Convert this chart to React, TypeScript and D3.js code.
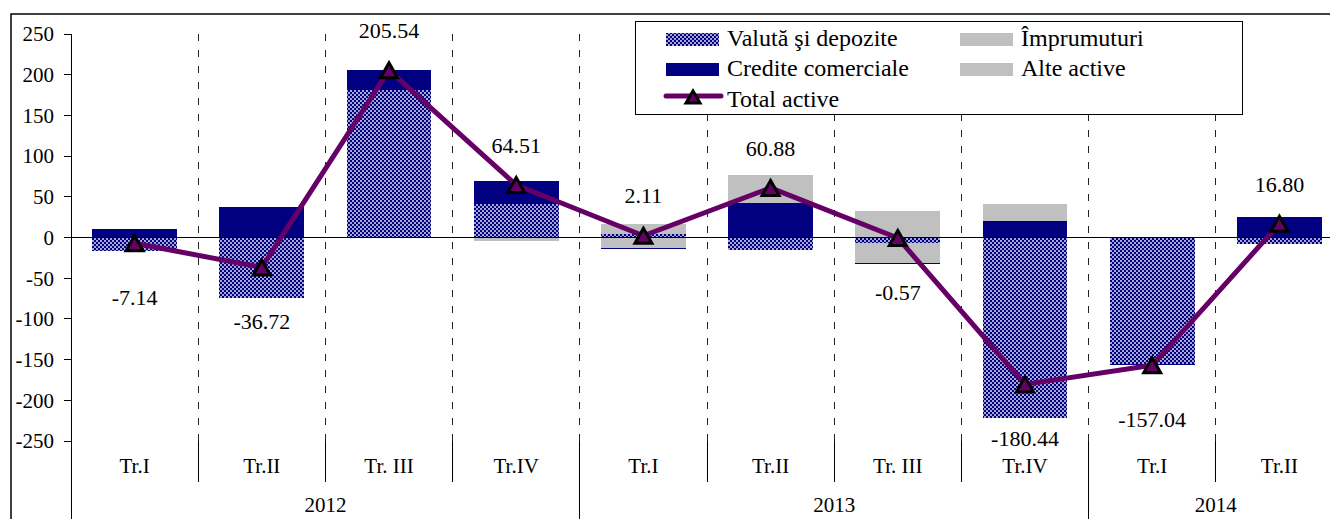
import React from "react";
import * as d3 from "d3";

// ---------- data ----------
const categories = ["Tr.I", "Tr.II", "Tr. III", "Tr.IV", "Tr.I", "Tr.II", "Tr. III", "Tr.IV", "Tr.I", "Tr.II"];
const years = ["2012", "2013", "2014"];
const yearSpans = [4, 4, 2];

const valuta = [-17.1, -74.2, 181, 41, 4, -15.5, -7, -221.5, -156, -8.3];
const imprumuturi = [0, 0, 0, -4.5, -12.7, 0, -24.4, 0, 0, 0];
const credite = [10, 37.5, 24.5, 28, -1.2, 42.8, -1.2, 20, -1, 25.1];
const alte = [0, 0, 0, 0, 12, 33.6, 32, 21, 0, 0];
const totalActive = [-7.14, -36.72, 205.54, 64.51, 2.11, 60.88, -0.57, -180.44, -157.04, 16.8];

const yTicks = [-250, -200, -150, -100, -50, 0, 50, 100, 150, 200, 250];

const seriesKeys = ["valuta", "imprumuturi", "credite", "alte"];
const seriesNames: Record<string, string> = {
  valuta: "Valută şi depozite",
  imprumuturi: "Împrumuturi",
  credite: "Credite comerciale",
  alte: "Alte active",
};

// ---------- styles ----------
const NAVY = "#000080";
const GRAY = "#C0C0C0";
const PURPLE = "#660066";
const FONT = "'Liberation Serif', 'Times New Roman', serif";
const fills: Record<string, string> = {
  valuta: "url(#checker)",
  imprumuturi: GRAY,
  credite: NAVY,
  alte: GRAY,
};

const W = 1330;
const H = 519;
const plotLeft = 71;
const plotTop = 34;
const plotBottom = 441;
const bandStep = 127.2;

function triPath(cx: number, cy: number, w: number, h: number) {
  return `M${cx},${cy - h / 2}L${cx + w / 2},${cy + h / 2}L${cx - w / 2},${cy + h / 2}Z`;
}

export default function App() {
  const idx = categories.map((_, i) => String(i));
  const x = d3
    .scaleBand<string>()
    .domain(idx)
    .range([plotLeft, plotLeft + bandStep * categories.length])
    .padding(0);
  const y = d3.scaleLinear().domain([-250, 250]).range([plotBottom, plotTop]);

  const rows = categories.map((_, i) => ({
    key: String(i),
    valuta: valuta[i],
    imprumuturi: imprumuturi[i],
    credite: credite[i],
    alte: alte[i],
  }));
  const stacked = d3
    .stack<any>()
    .keys(seriesKeys)
    .offset(d3.stackOffsetDiverging)(rows);

  const bw = x.bandwidth() * 0.668;
  const cx = (i: number) => (x(String(i)) as number) + x.bandwidth() / 2;

  const line = d3
    .line<number>()
    .x((_, i) => cx(i))
    .y((d) => y(d));

  const y0 = y(0);

  const yearBounds: number[] = [];
  let acc = 0;
  yearSpans.forEach((s) => {
    yearBounds.push(acc);
    acc += s;
  });

  return (
    <svg
      width={W}
      height={H}
      style={{ position: "absolute", left: 0, top: 0, background: "#fff" }}
      fontFamily={FONT}
    >
      <defs>
        <pattern id="checker" width={4} height={4} patternUnits="userSpaceOnUse">
          <rect width={4} height={4} fill={NAVY} />
          <rect x={0} y={0} width={2} height={2} fill="#fff" opacity={0.65} />
          <rect x={2} y={2} width={2} height={2} fill="#fff" opacity={0.65} />
        </pattern>
      </defs>
      <rect width={W} height={H} fill="#fff" />

      {/* outer frame */}
      <path d={`M11,${H}V14H${W}`} fill="none" stroke="#000" strokeWidth={1.5} />

      {/* dashed vertical gridlines */}
      {idx.slice(1).map((k) => (
        <line
          key={"g" + k}
          x1={x(k)}
          x2={x(k)}
          y1={plotTop}
          y2={plotBottom}
          stroke="#222"
          strokeWidth={1}
          strokeDasharray="7,9"
          shapeRendering="crispEdges"
        />
      ))}

      {/* bars */}
      {stacked.map((s) => (
        <g key={s.key} fill={fills[s.key]}>
          {s.map((d, i) => {
            const top = y(Math.max(d[0], d[1]));
            const bot = y(Math.min(d[0], d[1]));
            if (bot - top <= 0) return null;
            return (
              <rect
                key={i}
                x={cx(i) - bw / 2}
                y={top}
                width={bw}
                height={bot - top}
                shapeRendering="crispEdges"
              />
            );
          })}
        </g>
      ))}

      {/* zero line */}
      <line
        x1={plotLeft}
        x2={plotLeft + bandStep * categories.length}
        y1={y0}
        y2={y0}
        stroke="#000"
        strokeWidth={1}
        shapeRendering="crispEdges"
      />

      {/* y axis */}
      <line x1={plotLeft} x2={plotLeft} y1={plotTop} y2={H} stroke="#000" strokeWidth={1} shapeRendering="crispEdges" />
      {yTicks.map((t) => (
        <g key={t}>
          <line x1={plotLeft - 7} x2={plotLeft} y1={y(t)} y2={y(t)} stroke="#000" strokeWidth={1} shapeRendering="crispEdges" />
          <text x={54} y={y(t)} dy="0.35em" textAnchor="end" fontSize={21}>
            {t}
          </text>
        </g>
      ))}

      {/* category label separators */}
      {idx.slice(1).map((k, j) => {
        const isYear = yearBounds.includes(j + 1);
        return (
          <line
            key={"s" + k}
            x1={x(k)}
            x2={x(k)}
            y1={plotBottom}
            y2={isYear ? H : 482}
            stroke="#000"
            strokeWidth={1}
            shapeRendering="crispEdges"
          />
        );
      })}

      {/* category labels */}
      {categories.map((c, i) => (
        <text key={"c" + i} x={cx(i)} y={473} textAnchor="middle" fontSize={21}>
          {c}
        </text>
      ))}
      {years.map((yr, j) => {
        const start = x(String(yearBounds[j])) as number;
        const mid = start + (yearSpans[j] * bandStep) / 2;
        return (
          <text key={yr} x={mid} y={512} textAnchor="middle" fontSize={21}>
            {yr}
          </text>
        );
      })}

      {/* total line */}
      <path d={line(totalActive) || ""} fill="none" stroke={PURPLE} strokeWidth={5} strokeLinejoin="round" />
      {totalActive.map((v, i) => (
        <path key={"m" + i} d={triPath(cx(i), y(v), 17, 15)} fill={PURPLE} stroke="#000" strokeWidth={3} strokeLinejoin="miter" />
      ))}

      {/* data labels */}
      {totalActive.map((v, i) => (
        <text
          key={"l" + i}
          x={cx(i)}
          y={v >= 0 ? y(v) - 40 : y(v) + 54}
          dy="0.35em"
          textAnchor="middle"
          fontSize={22}
        >
          {v.toFixed(2)}
        </text>
      ))}

      {/* legend */}
      <g>
        <rect x={635} y={21} width={607} height={93} fill="#fff" stroke="#000" strokeWidth={1} shapeRendering="crispEdges" />
        {[
          { k: "valuta", col: 0, row: 0 },
          { k: "imprumuturi", col: 1, row: 0 },
          { k: "credite", col: 0, row: 1 },
          { k: "alte", col: 1, row: 1 },
        ].map(({ k, col, row }) => {
          const sx = col === 0 ? 666 : 960;
          const by = 45.5 + row * 30.5;
          return (
            <g key={"lg" + k}>
              <rect x={sx} y={by - 13} width={53} height={13} fill={fills[k]} shapeRendering="crispEdges" />
              <text x={sx + 61} y={by} fontSize={24}>
                {seriesNames[k]}
              </text>
            </g>
          );
        })}
        <line x1={666} x2={721} y1={96} y2={96} stroke={PURPLE} strokeWidth={5} strokeLinecap="round" />
        <path d={triPath(693, 97, 14, 12)} fill={PURPLE} stroke="#000" strokeWidth={3} />
        <text x={727} y={106.5} fontSize={24}>
          Total active
        </text>
      </g>
    </svg>
  );
}
